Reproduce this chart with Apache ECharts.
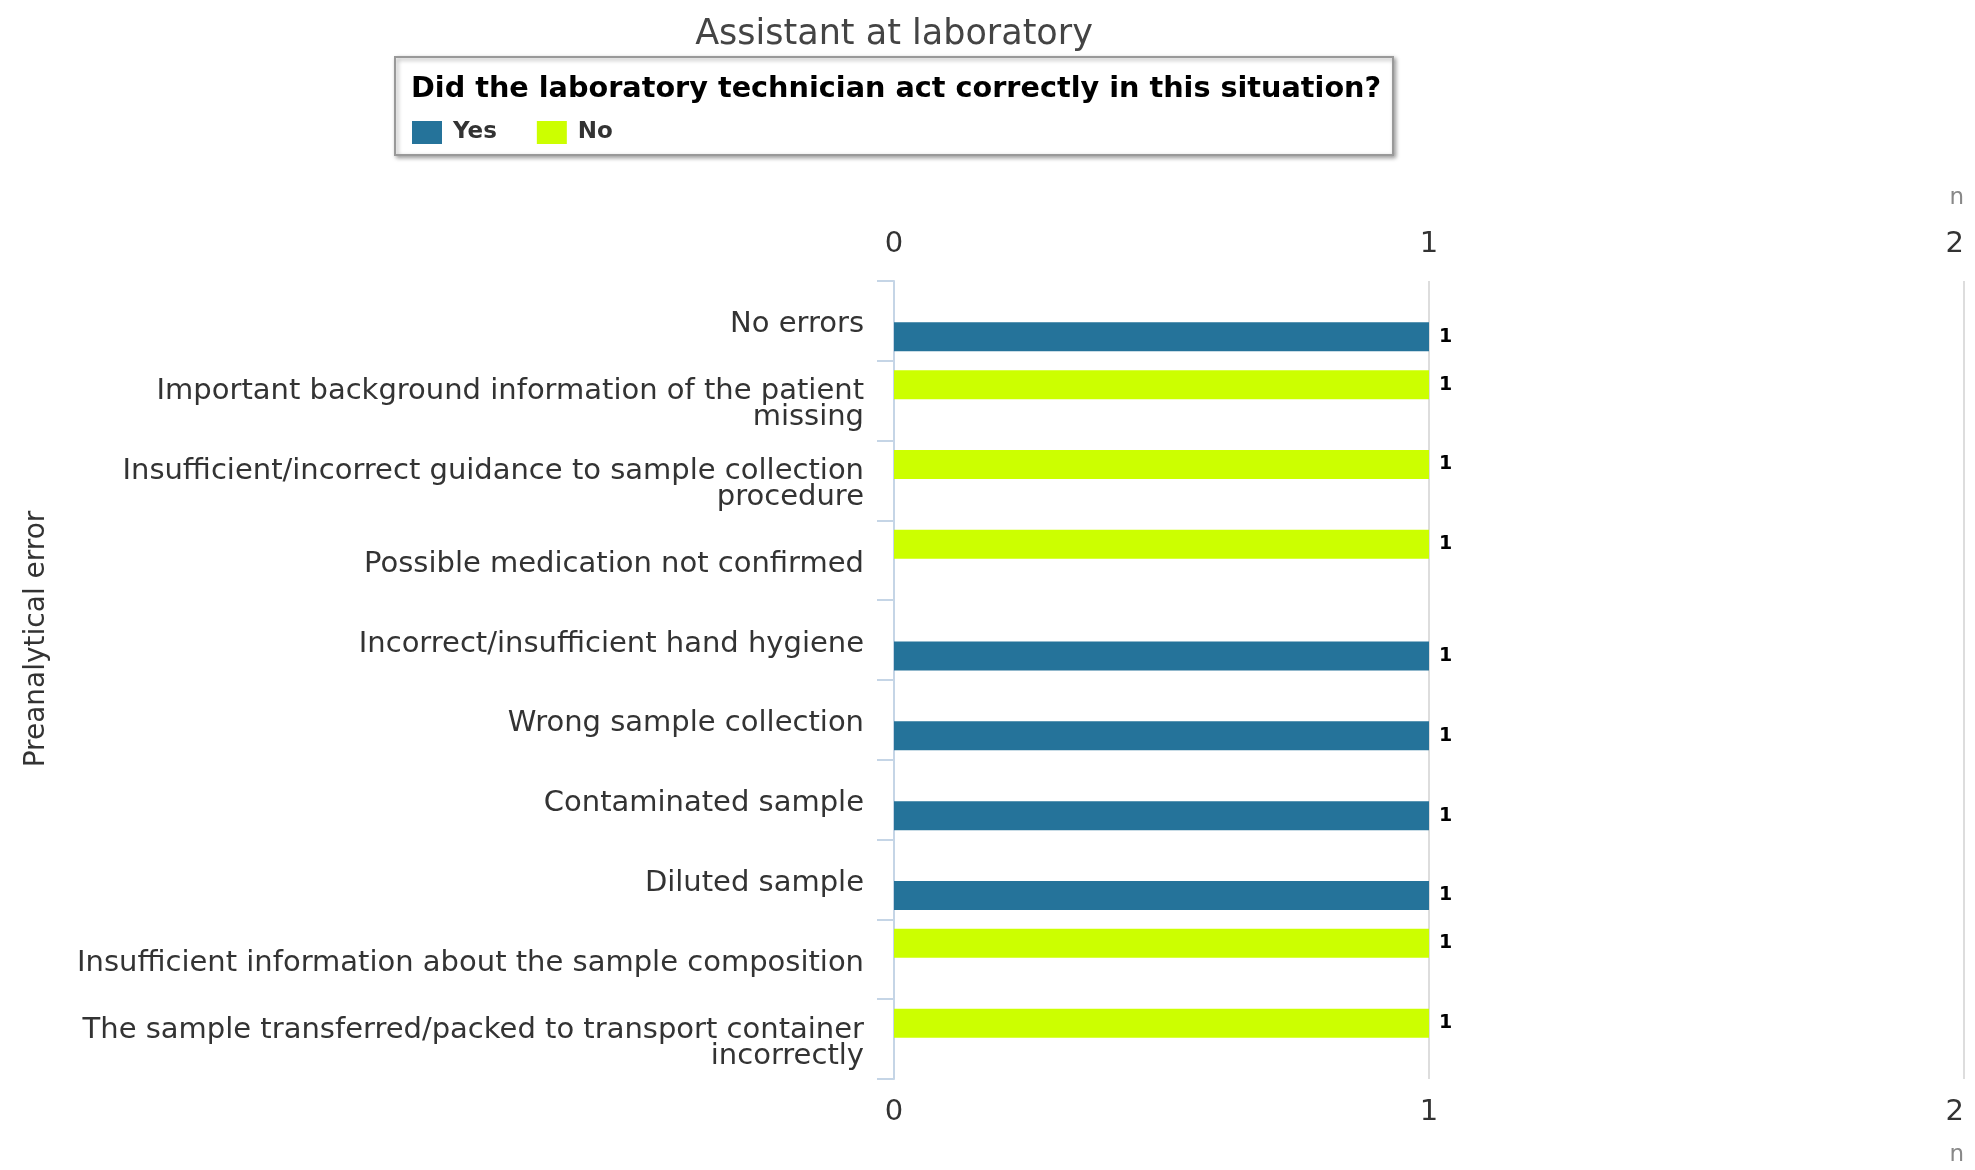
<!DOCTYPE html>
<html>
<head>
<meta charset="utf-8">
<title>Assistant at laboratory</title>
<script src="https://cdn.jsdelivr.net/npm/echarts@6/dist/echarts.min.js"></script>
<style>
    html, body { margin: 0; padding: 0; background: #fff; }
    #main { width: 1975px; height: 1170px; }
</style>
</head>
<body>
<div id="main"></div>
<script>
'use strict';

// category names keep the line breaks of the original picture
var categories = [
    'No errors',
    'Important background information of the patient\nmissing',
    'Insufficient/incorrect guidance to sample collection\nprocedure',
    'Possible medication not confirmed',
    'Incorrect/insufficient hand hygiene',
    'Wrong sample collection',
    'Contaminated sample',
    'Diluted sample',
    'Insufficient information about the sample composition',
    'The sample transferred/packed to transport container\nincorrectly'
];
var seriesNames = ['Yes', 'No'];
var yesValues = [1, null, null, null, 1, 1, 1, 1, null, null];
var noValues = [null, 1, 1, 1, null, null, null, null, 1, 1];
var xTicks = [0, 1, 2];

var font = 'DejaVu Sans';
var chart = echarts.init(document.getElementById('main'));

var barLabel = {
    show: true,
    position: 'right',
    distance: 10,
    color: '#000',
    fontFamily: font,
    fontWeight: 'bold',
    fontSize: 19
};

var xAxisBase = {
    type: 'value',
    min: xTicks[0],
    max: xTicks[xTicks.length - 1],
    interval: 1,
    axisLine: { show: false },
    axisTick: { show: false },
    name: 'n',
    nameLocation: 'end',
    nameGap: 0,
    nameTextStyle: { fontFamily: font, fontSize: 23, color: '#888', align: 'right' }
};

var option = {
    backgroundColor: '#fff',
    animation: false,
    title: [{
        text: 'Assistant at laboratory',
        left: 894,
        top: 17,
        textAlign: 'center',
        padding: 0,
        textStyle: { fontFamily: font, fontSize: 35, fontWeight: 'normal', color: '#444' }
    }, {
        text: 'Did the laboratory technician act correctly in this situation?',
        left: 395,
        top: 57,
        padding: [18, 12, 51, 16],
        backgroundColor: '#fff',
        borderColor: '#999',
        borderWidth: 2,
        shadowColor: 'rgba(0,0,0,0.35)',
        shadowBlur: 4,
        shadowOffsetX: 2,
        shadowOffsetY: 2,
        textStyle: { fontFamily: font, fontSize: 28.7, fontWeight: 'bold', color: '#000' }
    }],
    legend: {
        data: seriesNames,
        z: 10,
        left: 412,
        top: 121,
        padding: 0,
        icon: 'rect',
        itemWidth: 30,
        itemHeight: 23,
        itemGap: 40,
        textStyle: { fontFamily: font, fontSize: 23, fontWeight: 'bold', color: '#333', padding: [0, 0, 0, 6] }
    },
    grid: {
        left: 894,
        right: 11,
        top: 281,
        bottom: 91,
        containLabel: false
    },
    xAxis: [
        Object.assign({}, xAxisBase, {
            position: 'top',
            offset: 83,
            axisLabel: { inside: true, alignMaxLabel: 'right', fontFamily: font, fontSize: 29, color: '#333', margin: 32 },
            splitLine: { show: true, lineStyle: { color: '#ddd', width: 2 } }
        }),
        Object.assign({}, xAxisBase, {
            position: 'bottom',
            offset: 76,
            axisLabel: { inside: true, alignMaxLabel: 'right', fontFamily: font, fontSize: 29, color: '#333', margin: 28 },
            splitLine: { show: false }
        })
    ],
    yAxis: {
        type: 'category',
        data: categories,
        inverse: true,
        name: 'Preanalytical error',
        nameLocation: 'middle',
        nameGap: 843,
        nameRotate: 90,
        nameTextStyle: { fontFamily: font, fontSize: 28, color: '#333', padding: [0, 0, 0, 82] },
        axisLine: { show: true, lineStyle: { color: '#c5d5e6', width: 2 } },
        axisTick: { show: true, length: 17, lineStyle: { color: '#c5d5e6', width: 2 } },
        axisLabel: {
            margin: 30,
            align: 'right',
            formatter: function (value) {
                return value.split('\n').map(function (line) {
                    return '{t|' + line + '}';
                }).join('\n');
            },
            rich: {
                t: {
                    fontFamily: font,
                    fontSize: 29,
                    color: '#333',
                    lineHeight: 26,
                    padding: [8, 0, 0, 0]
                }
            }
        },
        splitLine: { show: false }
    },
    series: [{
        name: seriesNames[1],
        type: 'bar',
        data: noValues,
        barWidth: 29,
        barGap: '10%',
        itemStyle: { color: '#ccff00' },
        label: barLabel
    }, {
        name: seriesNames[0],
        type: 'bar',
        data: yesValues,
        barWidth: 29,
        barGap: '10%',
        itemStyle: { color: '#25739a' },
        label: barLabel
    }]
};

chart.setOption(option);
</script>
</body>
</html>
